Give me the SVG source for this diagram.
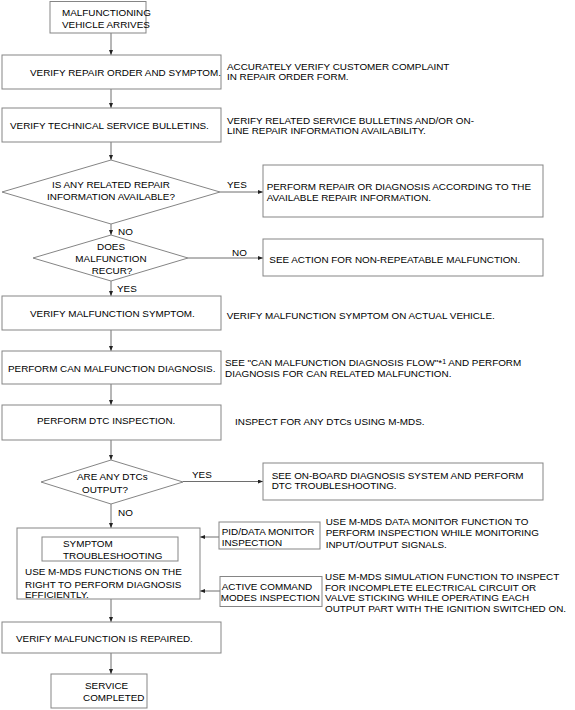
<svg xmlns="http://www.w3.org/2000/svg" width="575" height="710" viewBox="0 0 575 710">
<defs>
<style>
.b{fill:#fff;stroke:#858585;stroke-width:1}
.c{fill:none;stroke:#6e6e6e;stroke-width:1}
text{font-family:"Liberation Sans",Arial,sans-serif;font-size:9.9px;fill:#000}
.m{text-anchor:middle}
</style>
<marker id="ah" markerUnits="userSpaceOnUse" markerWidth="6" markerHeight="5" refX="5" refY="2" orient="auto">
<path d="M0,0 L5,2 L0,4 z" fill="#222"/>
</marker>
</defs>
<rect width="575" height="710" fill="#fff"/>
<g id="connectors">
<line class="c" x1="111" y1="33" x2="111" y2="55" marker-end="url(#ah)"/>
<line class="c" x1="111" y1="89" x2="111" y2="108" marker-end="url(#ah)"/>
<line class="c" x1="111" y1="142" x2="111" y2="160" marker-end="url(#ah)"/>
<line class="c" x1="220" y1="192" x2="263" y2="192" marker-end="url(#ah)"/>
<line class="c" x1="111" y1="224" x2="111" y2="235" marker-end="url(#ah)"/>
<line class="c" x1="188" y1="258" x2="263" y2="258" marker-end="url(#ah)"/>
<line class="c" x1="111" y1="281" x2="111" y2="296" marker-end="url(#ah)"/>
<line class="c" x1="111" y1="330" x2="111" y2="351" marker-end="url(#ah)"/>
<line class="c" x1="111" y1="384" x2="111" y2="405" marker-end="url(#ah)"/>
<line class="c" x1="111" y1="440" x2="111" y2="460" marker-end="url(#ah)"/>
<line class="c" x1="183" y1="481.5" x2="263" y2="481.5" marker-end="url(#ah)"/>
<line class="c" x1="111" y1="504" x2="111" y2="528" marker-end="url(#ah)"/>
<line class="c" x1="219" y1="537" x2="200" y2="537" marker-end="url(#ah)"/>
<line class="c" x1="220" y1="591" x2="200" y2="591" marker-end="url(#ah)"/>
<line class="c" x1="111" y1="599" x2="111" y2="622" marker-end="url(#ah)"/>
<line class="c" x1="111" y1="653" x2="111" y2="674" marker-end="url(#ah)"/>
<text x="227" y="187.8">YES</text>
<text x="118" y="235.2">NO</text>
<text x="232" y="256.2">NO</text>
<text x="117" y="291.5">YES</text>
<text x="192" y="477.8">YES</text>
<text x="118" y="516.2">NO</text>
</g>
<g id="n-start">
<rect class="b" x="50" y="1.5" width="96" height="31.5"/>
<text x="62" y="15.8">MALFUNCTIONING</text>
<text x="62" y="27.5">VEHICLE ARRIVES</text>
</g>
<g id="n-repair-order">
<rect class="b" x="2" y="55" width="219" height="34"/>
<text x="30" y="75.5">VERIFY REPAIR ORDER AND SYMPTOM.</text>
<text x="227" y="69.5">ACCURATELY VERIFY CUSTOMER COMPLAINT</text>
<text x="227" y="80">IN REPAIR ORDER FORM.</text>
</g>
<g id="n-tsb">
<rect class="b" x="2" y="108" width="219" height="34"/>
<text x="10" y="128.5">VERIFY TECHNICAL SERVICE BULLETINS.</text>
<text x="227" y="123.5">VERIFY RELATED SERVICE BULLETINS AND/OR ON-</text>
<text x="227" y="134">LINE REPAIR INFORMATION AVAILABILITY.</text>
</g>
<g id="d-info">
<polygon class="b" points="111,160 220,192 111,224 2,192"/>
<text class="m" x="111" y="187.8">IS ANY RELATED REPAIR</text>
<text class="m" x="111" y="200.2">INFORMATION AVAILABLE?</text>
</g>
<g id="n-perform-repair">
<rect class="b" x="263" y="165" width="280" height="52"/>
<text x="266.7" y="190.2">PERFORM REPAIR OR DIAGNOSIS ACCORDING TO THE</text>
<text x="266.7" y="200.7">AVAILABLE REPAIR INFORMATION.</text>
</g>
<g id="d-recur">
<polygon class="b" points="111,235 188,258 111,281 33,258"/>
<text class="m" x="111" y="250.2">DOES</text>
<text class="m" x="111" y="261.8">MALFUNCTION</text>
<text class="m" x="112" y="274.2">RECUR?</text>
</g>
<g id="n-non-repeat">
<rect class="b" x="263" y="239" width="280" height="37"/>
<text x="269.3" y="262.8">SEE ACTION FOR NON-REPEATABLE MALFUNCTION.</text>
</g>
<g id="n-verify-symptom">
<rect class="b" x="2" y="296" width="219" height="34"/>
<text x="30" y="316.5">VERIFY MALFUNCTION SYMPTOM.</text>
<text x="226.7" y="319">VERIFY MALFUNCTION SYMPTOM ON ACTUAL VEHICLE.</text>
</g>
<g id="n-can">
<rect class="b" x="2" y="351" width="219" height="33"/>
<text x="8" y="371.8">PERFORM CAN MALFUNCTION DIAGNOSIS.</text>
<text x="225" y="366.2">SEE "CAN MALFUNCTION DIAGNOSIS FLOW"*<tspan font-size="7" dy="-2.5">1</tspan><tspan dy="2.5"> AND PERFORM</tspan></text>
<text x="225" y="376.8">DIAGNOSIS FOR CAN RELATED MALFUNCTION.</text>
</g>
<g id="n-dtc">
<rect class="b" x="2" y="405" width="219" height="35"/>
<text x="37" y="423.5">PERFORM DTC INSPECTION.</text>
<text x="235" y="425">INSPECT FOR ANY DTCs USING M-MDS.</text>
</g>
<g id="d-dtc">
<polygon class="b" points="111,460 183,482 111,504 41,482"/>
<text x="77" y="480.2">ARE ANY DTCs</text>
<text x="82" y="492.8">OUTPUT?</text>
</g>
<g id="n-obd">
<rect class="b" x="263" y="463" width="280" height="37"/>
<text x="271.7" y="478.5">SEE ON-BOARD DIAGNOSIS SYSTEM AND PERFORM</text>
<text x="271.7" y="489.2">DTC TROUBLESHOOTING.</text>
</g>
<g id="n-symptom-ts">
<rect class="b" x="17" y="528" width="183" height="71"/>
<rect class="b" x="42" y="537" width="136" height="24"/>
<text x="63" y="546.8">SYMPTOM</text>
<text x="63" y="559.2">TROUBLESHOOTING</text>
<text x="25" y="575.2">USE M-MDS FUNCTIONS ON THE</text>
<text x="25" y="587.5">RIGHT TO PERFORM DIAGNOSIS</text>
<text x="25" y="598.3">EFFICIENTLY.</text>
</g>
<g id="n-pid">
<rect class="b" x="219" y="522" width="101" height="27"/>
<text x="221.7" y="535.2">PID/DATA MONITOR</text>
<text x="221.7" y="546.2">INSPECTION</text>
<text x="325.7" y="524.5">USE M-MDS DATA MONITOR FUNCTION TO</text>
<text x="325.7" y="536.3">PERFORM INSPECTION WHILE MONITORING</text>
<text x="325.7" y="548">INPUT/OUTPUT SIGNALS.</text>
</g>
<g id="n-active">
<rect class="b" x="220" y="576.5" width="102" height="30"/>
<text x="221.7" y="589.5">ACTIVE COMMAND</text>
<text x="220.7" y="600.8">MODES INSPECTION</text>
<text x="325" y="580">USE M-MDS SIMULATION FUNCTION TO INSPECT</text>
<text x="325" y="590.7">FOR INCOMPLETE ELECTRICAL CIRCUIT OR</text>
<text x="325" y="601.4">VALVE STICKING WHILE OPERATING EACH</text>
<text x="325" y="612">OUTPUT PART WITH THE IGNITION SWITCHED ON.</text>
</g>
<g id="n-repaired">
<rect class="b" x="2" y="622" width="219" height="31"/>
<text x="16" y="641.8">VERIFY MALFUNCTION IS REPAIRED.</text>
</g>
<g id="n-end">
<rect class="b" x="51" y="674" width="96" height="34"/>
<text x="85" y="688.5">SERVICE</text>
<text x="83" y="700.8">COMPLETED</text>
</g>
</svg>
